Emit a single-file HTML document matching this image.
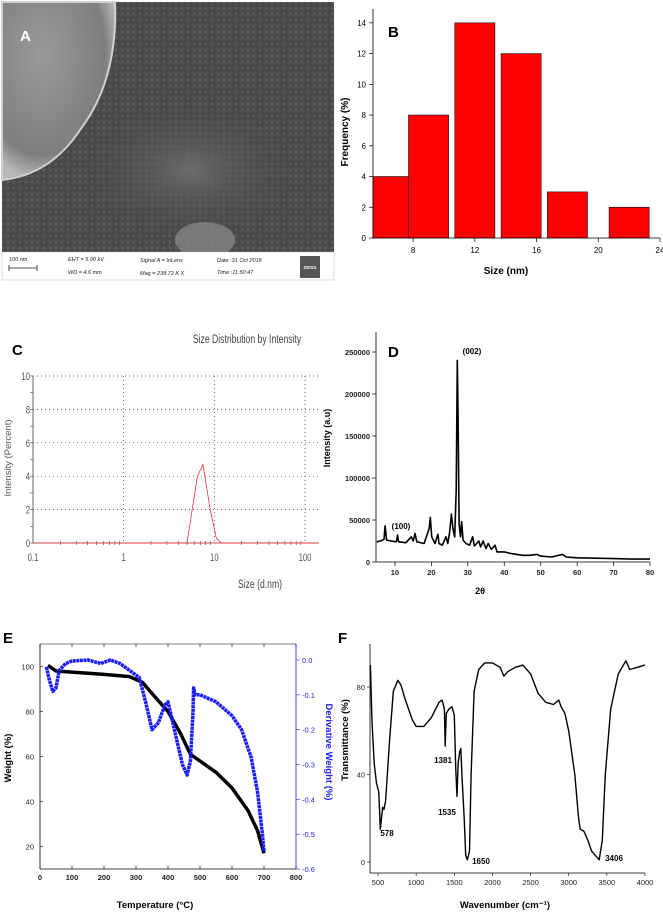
<!DOCTYPE html>
<html><head><meta charset="utf-8"><style>
html,body{margin:0;padding:0;background:#fff;width:663px;height:912px;overflow:hidden}
svg{display:block;font-family:"Liberation Sans",sans-serif}
</style></head><body>
<svg id="fig" width="663" height="912" viewBox="0 0 663 912" xmlns="http://www.w3.org/2000/svg">
<defs>
<radialGradient id="semblob" cx="0.35" cy="0.3" r="0.7"><stop offset="0" stop-color="#9a9a9a"/><stop offset="0.8" stop-color="#7e7e7e"/><stop offset="1" stop-color="#b8b8b8"/></radialGradient>
<radialGradient id="semmid" cx="0.5" cy="0.5" r="0.5"><stop offset="0" stop-color="#6c6c6c"/><stop offset="1" stop-color="#4a4a4a" stop-opacity="0"/></radialGradient>
<pattern id="grain" width="6" height="6" patternUnits="userSpaceOnUse"><circle cx="2" cy="2" r="1" fill="#7a7a7a" opacity="0.6"/><circle cx="5" cy="5" r="0.8" fill="#333" opacity="0.5"/></pattern>
</defs>
<!-- Panel A SEM -->
<g>
<rect x="2" y="2" width="332" height="250" fill="#4b4b4b"/>
<rect x="2" y="2" width="332" height="250" fill="url(#grain)"/>
<ellipse cx="190" cy="170" rx="110" ry="70" fill="url(#semmid)"/>
<path d="M2,2 L115,2 Q118,80 80,130 Q50,175 2,180 Z" fill="url(#semblob)" stroke="#d0d0d0" stroke-width="2"/>
<ellipse cx="205" cy="240" rx="30" ry="18" fill="#8d8d8d" opacity="0.7"/>
<text x="20" y="41" font-size="15" font-weight="bold" fill="#fff">A</text>
<rect x="2" y="252" width="332" height="28" fill="#fff" stroke="#bbb" stroke-width="0.5"/>
<g font-size="5.5" font-style="italic" fill="#222">
<text x="9" y="261">100 nm</text>
<path d="M9,268 H37 M9,265 V271 M37,265 V271" stroke="#222" stroke-width="0.8"/>
<text x="68" y="261">EHT =  5.00 kV</text><text x="68" y="274">WD =  4.6 mm</text>
<text x="140" y="262">Signal A = InLens</text><text x="140" y="275">Mag =  238.72 K X</text>
<text x="217" y="262">Date :31 Oct 2018</text><text x="217" y="274">Time :11:50:47</text>
</g>
<rect x="300" y="256" width="20" height="22" fill="#555"/>
<text x="310" y="269" font-size="4.5" fill="#fff" text-anchor="middle" font-weight="bold">ZEISS</text>
</g>
<g id="B"></g>
<g id="C"></g>
<g id="D"></g>
<g id="E"></g>
<g id="F"></g>
</svg>
<script>
// ---- data ----
const histCenters=[6.5,9,12,15,18,22];
const histValues=[4,8,14,12,3,2];
const histXTicks=[8,12,16,20,24];
const histYTicks=[0,2,4,6,8,10,12,14];

const dlsSizes=[0.1,0.4,1,5,6.5,7.5,9,10.5,12,140];
const dlsIntensity=[0,0,0,0,4,4.7,2,0.3,0,0];
const dlsXTicks=[0.1,1,10,100];
const dlsXTickLabels=["0.1","1","10","100"];
const dlsYTicks=[0,2,4,6,8,10];

const xrdTheta=[5,6,7,7.3,7.7,9,10.4,10.7,11,13,14.5,15,15.5,16,18,19.4,19.7,20.1,21,21.8,22.1,23,24,24.5,25,25.5,25.9,26.4,26.8,27.1,27.3,27.6,28,28.3,28.7,29.5,30.5,31.3,31.8,33,33.5,34.2,35,35.6,36.5,37.5,38,40,42,45,47,49,50,53,56,57,60,65,70,75,80];
const xrdIntensity=[24000,25000,27000,43000,26000,25000,24000,32000,24000,23000,30000,25000,34000,24000,22000,40000,53000,30000,22000,33000,22000,20000,30000,22000,35000,57000,40000,30000,85000,240000,180000,45000,30000,48000,26000,22000,20000,30000,19000,25000,18000,25000,16000,22000,15000,20000,12000,12000,10000,8000,8000,9000,7000,6000,9000,6000,5000,4500,4000,3500,3500];
const xrdXTicks=[10,20,30,40,50,60,70,80];
const xrdYTicks=[0,50000,100000,150000,200000,250000];

const tgaTemp=[25,50,100,200,280,320,350,400,440,470,500,550,600,650,680,700];
const tgaWeight=[100.5,98,97.5,96.5,95.5,93,88,80,70,61,58,53,46,36,27,17];
const dtgTemp=[20,30,40,50,60,80,100,150,190,220,250,280,310,330,350,370,390,400,420,445,460,470,478,480,485,500,550,600,630,660,680,695,700];
const dtgValue=[-0.02,-0.06,-0.09,-0.08,-0.03,-0.01,-0.003,0,-0.01,0,-0.01,-0.03,-0.05,-0.12,-0.2,-0.18,-0.13,-0.12,-0.2,-0.3,-0.33,-0.29,-0.15,-0.08,-0.1,-0.1,-0.12,-0.16,-0.2,-0.28,-0.38,-0.5,-0.55];
const tgaXTicks=[0,100,200,300,400,500,600,700,800];
const tgaYTicks=[20,40,60,80,100];
const dtgYTicks=[0,-0.1,-0.2,-0.3,-0.4,-0.5,-0.6];

const ftirWn=[400,420,450,480,510,530,560,578,600,650,700,760,800,850,950,1000,1100,1200,1300,1340,1370,1381,1395,1430,1470,1500,1520,1535,1550,1570,1585,1600,1630,1650,1670,1700,1720,1760,1820,1900,2000,2100,2150,2200,2300,2400,2500,2600,2700,2800,2870,2900,2950,3000,3080,3130,3150,3200,3250,3300,3400,3440,3480,3550,3650,3750,3800,3900,4000];
const ftirT=[90,65,45,36,32,15,25,24,28,55,78,83,81,75,65,62,62,66,73,74,70,53,68,70,71,67,42,30,45,50,52,40,20,3,1,5,40,78,88,91,91,89,85,87,89,90,86,77,73,72,74,71,68,60,40,20,15,14,10,5,1,10,40,70,86,92,88,89,90];
const ftirXTicks=[500,1000,1500,2000,2500,3000,3500,4000];
const ftirYTicks=[0,40,80];
const ftirPeakLabels=["578","1381","1535","1650","3406"];

// ---- helpers ----
const NS="http://www.w3.org/2000/svg";
function mk(parent,tag,attrs,txt){const e=document.createElementNS(NS,tag);for(const k in attrs)e.setAttribute(k,attrs[k]);if(txt!==undefined)e.textContent=txt;parent.appendChild(e);return e;}
function lin(d0,d1,r0,r1){return v=>r0+(v-d0)*(r1-r0)/(d1-d0);}
function pathFrom(xs,ys,fx,fy){return xs.map((v,i)=>(i?'L':'M')+fx(v).toFixed(1)+','+fy(ys[i]).toFixed(1)).join(' ');}

// ---- B histogram ----
(function(){
const g=document.getElementById('B');
const L=373,R=660,T=9,Bt=238;
const x=lin(5.4,24,L,R), y=lin(0,14.9,Bt,T);
const bw=2.6;
histCenters.forEach((c,i)=>{
  const x0=Math.max(L,x(c-bw/2)), x1=x(c+bw/2);
  const r=mk(g,'rect',{x:x0,y:y(histValues[i]),width:x1-x0,height:Bt-y(histValues[i]),fill:'#ff0000',stroke:'#111','stroke-width':0.6});
  
  
});
const ax=mk(g,'path',{d:`M${L},${T} V${Bt} H${R}`,fill:'none',stroke:'#000','stroke-width':0.8});


histYTicks.forEach(v=>{
  mk(g,'line',{x1:L-4,x2:L,y1:y(v),y2:y(v),stroke:'#000','stroke-width':0.7});
  const t=mk(g,'text',{x:L-7,y:y(v)+3,'font-size':8,'text-anchor':'end'},v);
  
  
});
histXTicks.forEach(v=>{
  mk(g,'line',{x1:x(v),x2:x(v),y1:Bt,y2:Bt+4,stroke:'#000','stroke-width':0.7});
  const t=mk(g,'text',{x:x(v),y:Bt+15,'font-size':8,'text-anchor':'middle'},v);
  
  
});
const lb=mk(g,'text',{x:388,y:37,'font-size':15,'font-weight':'bold'},'B');


const xt=mk(g,'text',{x:506,y:274,'font-size':10,'font-weight':'bold','text-anchor':'middle'},'Size (nm)');


const yt=mk(g,'text',{x:0,y:0,'font-size':10,'font-weight':'bold','text-anchor':'middle',transform:'translate(348,132) rotate(-90)'},'Frequency (%)');


})();

// ---- C DLS ----
(function(){
const g=document.getElementById('C');
const L=33,R=319,T=376,Bt=543;
const lx=lin(-1,2,33,305); const x=v=>lx(Math.log10(v)); const y=lin(0,10,Bt,T);
dlsYTicks.forEach(v=>{ if(v>0){const l=mk(g,'line',{x1:L,x2:R,y1:y(v),y2:y(v),stroke:'#333','stroke-width':0.7,'stroke-dasharray':'1,3'});
   }});
dlsXTicks.forEach(v=>{ if(v>0.1){const l=mk(g,'line',{x1:x(v),x2:x(v),y1:T,y2:Bt,stroke:'#333','stroke-width':0.7,'stroke-dasharray':'1,3'});
   }});
mk(g,'path',{d:`M${L},${T} V${Bt} H${R}`,fill:'none',stroke:'#444','stroke-width':0.8});
for(let d=-1;d<3;d++){for(let k=2;k<10;k++){const v=k*Math.pow(10,d); if(x(v)<R) mk(g,'line',{x1:x(v),x2:x(v),y1:Bt-2,y2:Bt+2,stroke:'#444','stroke-width':0.6});}}
for(let v=0;v<=10;v+=1) mk(g,'line',{x1:L-3,x2:L,y1:y(v),y2:y(v),stroke:'#444','stroke-width':0.6});
dlsYTicks.forEach(v=>{const t=mk(g,'text',{x:L-3,y:y(v)+4,'font-size':11,'text-anchor':'end',fill:'#555',transform:`translate(${L-3},0) scale(0.7,1) translate(${-(L-3)},0)`},v);
   });
dlsXTicks.forEach((v,i)=>{const t=mk(g,'text',{x:0,y:0,'font-size':11,'text-anchor':'middle',fill:'#555',transform:`translate(${x(v)},${Bt+18}) scale(0.7,1)`},dlsXTickLabels[i]);
   });
const base=mk(g,'line',{x1:x(0.4),x2:R,y1:Bt,y2:Bt,stroke:'#f04040','stroke-width':0.8});
 
const p=mk(g,'path',{d:pathFrom(dlsSizes,dlsIntensity,x,y),fill:'none',stroke:'#ee3333','stroke-width':0.8});
 
const lb=mk(g,'text',{x:12,y:355,'font-size':15,'font-weight':'bold'},'C');
 
const tt=mk(g,'text',{x:0,y:0,'font-size':12,fill:'#444','text-anchor':'middle',transform:'translate(247,343) scale(0.72,1)'},'Size Distribution by Intensity');
 
const xt=mk(g,'text',{x:0,y:0,'font-size':12,fill:'#444','text-anchor':'middle',transform:'translate(260,588) scale(0.72,1)'},'Size (d.nm)');
 
const yt=mk(g,'text',{x:0,y:0,'font-size':9.5,fill:'#555','text-anchor':'middle',transform:'translate(11,458) rotate(-90)'},'Intensity (Percent)');
 
})();

// ---- D XRD ----
(function(){
const g=document.getElementById('D');
const L=376,R=650,T=332,Bt=562;
const x=lin(4.8,80,L,R), y=lin(0,250000,Bt,352);
mk(g,'path',{d:`M${L},${T} V${Bt} H${R}`,fill:'none',stroke:'#000','stroke-width':0.8});
xrdYTicks.forEach(v=>{mk(g,'line',{x1:L-4,x2:L,y1:y(v),y2:y(v),stroke:'#000','stroke-width':0.7});
  const t=mk(g,'text',{x:L-6,y:y(v)+3,'font-size':7.5,'font-weight':'bold','text-anchor':'end',fill:'#222'},v);
   });
xrdXTicks.forEach(v=>{mk(g,'line',{x1:x(v),x2:x(v),y1:Bt,y2:Bt+4,stroke:'#000','stroke-width':0.7});
  const t=mk(g,'text',{x:x(v),y:Bt+13,'font-size':7.5,'font-weight':'bold','text-anchor':'middle',fill:'#222'},v);
   });
const p=mk(g,'path',{d:pathFrom(xrdTheta,xrdIntensity,x,y),fill:'none',stroke:'#000','stroke-width':1.6,'stroke-linejoin':'round'});
 
const lb=mk(g,'text',{x:388,y:357,'font-size':15,'font-weight':'bold'},'D');
 
const a=mk(g,'text',{x:472,y:354,'font-size':8,'font-weight':'bold','text-anchor':'middle'},'(002)');
 
const b=mk(g,'text',{x:401,y:529,'font-size':8,'font-weight':'bold','text-anchor':'middle'},'(100)');
 
const xt=mk(g,'text',{x:480,y:594,'font-size':9,'font-weight':'bold','text-anchor':'middle'},'2θ');
 
const yt=mk(g,'text',{x:0,y:0,'font-size':9,'font-weight':'bold','text-anchor':'middle',transform:'translate(330,438) rotate(-90)'},'Intensity (a.u)');
 
})();

// ---- E TGA ----
(function(){
const g=document.getElementById('E');
const L=40,R=296,T=644,Bt=869;
const x=lin(0,800,L,R), y=lin(10,110,Bt,T), y2=lin(-0.6,0,Bt,660);
mk(g,'line',{x1:L,x2:L,y1:T,y2:Bt,stroke:'#000','stroke-width':0.8});
mk(g,'line',{x1:L,x2:R,y1:Bt,y2:Bt,stroke:'#000','stroke-width':0.8});
mk(g,'line',{x1:L,x2:R,y1:T,y2:T,stroke:'#000','stroke-width':0.6});
const rax=mk(g,'line',{x1:R,x2:R,y1:T,y2:Bt,stroke:'#2222ee','stroke-width':0.8});
 
tgaXTicks.forEach(v=>{mk(g,'line',{x1:x(v),x2:x(v),y1:Bt,y2:Bt-3,stroke:'#000','stroke-width':0.6});
  mk(g,'line',{x1:x(v),x2:x(v),y1:T,y2:T+3,stroke:'#000','stroke-width':0.6});
  const t=mk(g,'text',{x:x(v),y:Bt+11,'font-size':7.5,'font-weight':'bold','text-anchor':'middle',fill:'#222'},v);
   });
tgaYTicks.forEach(v=>{mk(g,'line',{x1:L,x2:L+3,y1:y(v),y2:y(v),stroke:'#000','stroke-width':0.6});
  const t=mk(g,'text',{x:L-6,y:y(v)+3,'font-size':7.5,'text-anchor':'end',fill:'#222'},v);
   });
dtgYTicks.forEach(v=>{mk(g,'line',{x1:R,x2:R+4,y1:y2(v),y2:y2(v),stroke:'#2222ee','stroke-width':0.6});
  const t=mk(g,'text',{x:R+6,y:y2(v)+3,'font-size':7.5,fill:'#2222ee'},v===0?'0.0':v.toFixed(1));
   });
const w=mk(g,'path',{d:pathFrom(tgaTemp,tgaWeight,x,y),fill:'none',stroke:'#000','stroke-width':3.5,'stroke-linejoin':'round'});
 
const d=mk(g,'path',{d:pathFrom(dtgTemp,dtgValue,x,y2),fill:'none',stroke:'#1a1aff','stroke-width':3.5,'stroke-linejoin':'round','stroke-dasharray':'3,0.6'});
 
const lb=mk(g,'text',{x:3,y:643,'font-size':15,'font-weight':'bold'},'E');
 
const xt=mk(g,'text',{x:155,y:908,'font-size':9.5,'font-weight':'bold','text-anchor':'middle'},'Temperature (°C)');
 
const yt=mk(g,'text',{x:0,y:0,'font-size':9.5,'font-weight':'bold','text-anchor':'middle',transform:'translate(11,758) rotate(-90)'},'Weight (%)');
 
const y2t=mk(g,'text',{x:0,y:0,'font-size':9.5,'font-weight':'bold','text-anchor':'middle',fill:'#2222ee',transform:'translate(326,752) rotate(90)'},'Derivative Weight (%)');
 
})();

// ---- F FTIR ----
(function(){
const g=document.getElementById('F');
const L=370,R=645,T=644,Bt=873;
const x=lin(395,4000,L,R), y=lin(0,80,862,687);
mk(g,'path',{d:`M${L},${T} V${Bt} H${R}`,fill:'none',stroke:'#000','stroke-width':0.8});
ftirXTicks.forEach(v=>{mk(g,'line',{x1:x(v),x2:x(v),y1:Bt,y2:Bt+3,stroke:'#000','stroke-width':0.6});
  const t=mk(g,'text',{x:x(v),y:Bt+12,'font-size':7.5,'text-anchor':'middle',fill:'#222'},v);
   });
ftirYTicks.forEach(v=>{mk(g,'line',{x1:L-3,x2:L,y1:y(v),y2:y(v),stroke:'#000','stroke-width':0.6});
  const t=mk(g,'text',{x:L-5,y:y(v)+3,'font-size':7.5,'text-anchor':'end',fill:'#222'},v);
   });
const p=mk(g,'path',{d:pathFrom(ftirWn,ftirT,x,y),fill:'none',stroke:'#000','stroke-width':1.4,'stroke-linejoin':'round'});
 
const pos=[[387,836],[443,763],[447,815],[481,864],[614,861]];
ftirPeakLabels.forEach((s,i)=>{const t=mk(g,'text',{x:pos[i][0],y:pos[i][1],'font-size':8,'font-weight':'bold','text-anchor':'middle'},s);
   });
const lb=mk(g,'text',{x:338,y:643,'font-size':15,'font-weight':'bold'},'F');
 
const xt=mk(g,'text',{x:505,y:908,'font-size':9.5,'font-weight':'bold','text-anchor':'middle'},'Wavenumber (cm⁻¹)');
 
const yt=mk(g,'text',{x:0,y:0,'font-size':9.5,'font-weight':'bold','text-anchor':'middle',transform:'translate(348,740) rotate(-90)'},'Transmittance (%)');
 
})();
</script>
</body></html>
